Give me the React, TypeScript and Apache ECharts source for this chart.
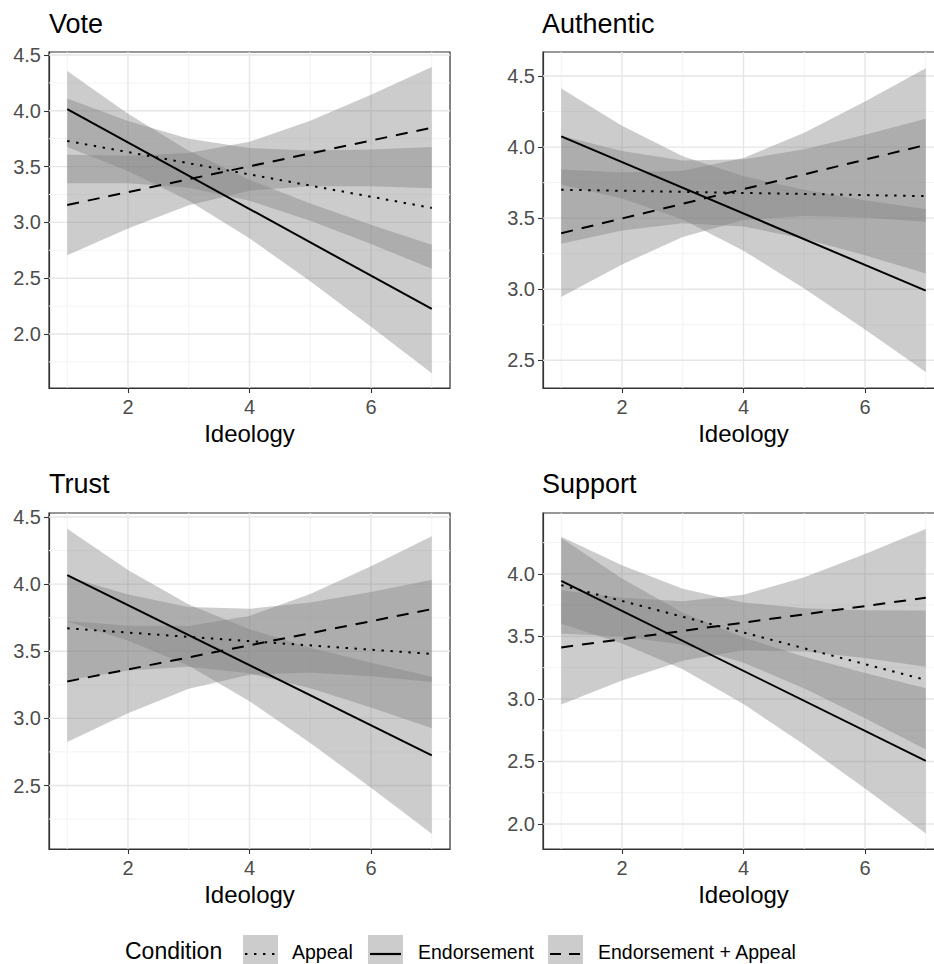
import React, { useEffect, useRef } from "react";
import * as echarts from "echarts";

// ---------------- data ----------------
const X = [1, 2, 3, 4, 5, 6, 7];
const LINE_X = [1, 7];
const PANEL_TITLES = ["Vote", "Authentic", "Trust", "Support"];
const CONDITIONS = ["Appeal", "Endorsement", "Endorsement + Appeal"];
const X_TICKS = [2, 4, 6];
const X_MINOR = [1, 3, 5, 7];

// Vote
const voteAppealLine = [3.73, 3.13];
const voteAppealLo = [3.35, 3.351, 3.31, 3.194, 3.015, 2.806, 2.585];
const voteAppealHi = [4.11, 3.909, 3.75, 3.666, 3.645, 3.654, 3.675];
const voteEndorseLine = [4.016, 2.224];
const voteEndorseLo = [3.676, 3.46, 3.195, 2.857, 2.472, 2.066, 1.649];
const voteEndorseHi = [4.356, 3.974, 3.643, 3.383, 3.17, 2.98, 2.799];
const voteBothLine = [3.156, 3.849];
const voteBothLo = [2.706, 2.946, 3.153, 3.284, 3.325, 3.324, 3.306];
const voteBothHi = [3.606, 3.598, 3.621, 3.722, 3.911, 4.144, 4.392];
const voteRange = [1.516, 4.527];
const voteTicks = [2, 2.5, 3, 3.5, 4, 4.5];
const voteMinor = [1.75, 2.25, 2.75, 3.25, 3.75, 4.25];

// Authentic
const authAppealLine = [3.7, 3.655];
const authAppealLo = [3.32, 3.414, 3.465, 3.442, 3.355, 3.239, 3.11];
const authAppealHi = [4.08, 3.972, 3.905, 3.914, 3.985, 4.087, 4.2];
const authEndorseLine = [4.075, 2.99];
const authEndorseLo = [3.737, 3.638, 3.49, 3.271, 3.005, 2.716, 2.418];
const authEndorseHi = [4.413, 4.15, 3.936, 3.795, 3.699, 3.626, 3.562];
const authBothLine = [3.394, 4.015];
const authBothLo = [2.946, 3.174, 3.368, 3.487, 3.516, 3.504, 3.475];
const authBothHi = [3.842, 3.822, 3.834, 3.923, 4.1, 4.32, 4.555];
const authRange = [2.305, 4.669];
const authTicks = [2.5, 3, 3.5, 4, 4.5];
const authMinor = [2.75, 3.25, 3.75, 4.25];

// Trust
const trustAppealLine = [3.671, 3.48];
const trustAppealLo = [3.285, 3.356, 3.384, 3.336, 3.224, 3.082, 2.927];
const trustAppealHi = [4.057, 3.922, 3.83, 3.816, 3.864, 3.942, 4.033];
const trustEndorseLine = [4.067, 2.725];
const trustEndorseLo = [3.721, 3.581, 3.392, 3.128, 2.817, 2.484, 2.14];
const trustEndorseHi = [4.413, 4.105, 3.848, 3.664, 3.527, 3.414, 3.31];
const trustBothLine = [3.275, 3.814];
const trustBothLo = [2.825, 3.039, 3.221, 3.325, 3.341, 3.314, 3.271];
const trustBothHi = [3.725, 3.691, 3.689, 3.763, 3.927, 4.134, 4.357];
const trustRange = [2.027, 4.53];
const trustTicks = [2.5, 3, 3.5, 4, 4.5];
const trustMinor = [2.25, 2.75, 3.25, 3.75, 4.25];

// Support
const suppAppealLine = [3.91, 3.152];
const suppAppealLo = [3.522, 3.499, 3.433, 3.29, 3.084, 2.846, 2.596];
const suppAppealHi = [4.298, 4.069, 3.881, 3.772, 3.726, 3.71, 3.708];
const suppEndorseLine = [3.944, 2.505];
const suppEndorseLo = [3.601, 3.444, 3.238, 2.959, 2.633, 2.283, 1.924];
const suppEndorseHi = [4.287, 3.964, 3.69, 3.491, 3.337, 3.207, 3.086];
const suppBothLine = [3.412, 3.809];
const suppBothLo = [2.955, 3.147, 3.306, 3.389, 3.38, 3.327, 3.258];
const suppBothHi = [3.869, 3.809, 3.782, 3.833, 3.974, 4.159, 4.36];
const suppRange = [1.8, 4.487];
const suppTicks = [2, 2.5, 3, 3.5, 4];
const suppMinor = [2.25, 2.75, 3.25, 3.75, 4.25];

// ---------------- styling ----------------
const FONT = '"Liberation Sans", Arial, Helvetica, sans-serif';
const BAND_FILL = "rgba(128,128,128,0.4)";
const DOT = [2.4, 6.6];
const DASH = [12, 9];
const LINE_TYPES: any[] = [DOT, "solid", DASH];

const PANELS = [
  {
    lines: [voteAppealLine, voteEndorseLine, voteBothLine],
    los: [voteAppealLo, voteEndorseLo, voteBothLo],
    his: [voteAppealHi, voteEndorseHi, voteBothHi],
    range: voteRange, ticks: voteTicks, minor: voteMinor,
  },
  {
    lines: [authAppealLine, authEndorseLine, authBothLine],
    los: [authAppealLo, authEndorseLo, authBothLo],
    his: [authAppealHi, authEndorseHi, authBothHi],
    range: authRange, ticks: authTicks, minor: authMinor,
  },
  {
    lines: [trustAppealLine, trustEndorseLine, trustBothLine],
    los: [trustAppealLo, trustEndorseLo, trustBothLo],
    his: [trustAppealHi, trustEndorseHi, trustBothHi],
    range: trustRange, ticks: trustTicks, minor: trustMinor,
  },
  {
    lines: [suppAppealLine, suppEndorseLine, suppBothLine],
    los: [suppAppealLo, suppEndorseLo, suppBothLo],
    his: [suppAppealHi, suppEndorseHi, suppBothHi],
    range: suppRange, ticks: suppTicks, minor: suppMinor,
  },
];

const GRID_POS = [
  { left: 49, top: 52 },
  { left: 543, top: 52 },
  { left: 49, top: 513 },
  { left: 543, top: 513 },
];
const GRID_W = 401;
const GRID_H = 336;

function hGridSeries(gi: number, values: number[], color: string, width: number) {
  return {
    type: "custom",
    xAxisIndex: gi,
    yAxisIndex: gi,
    silent: true,
    z: 1,
    data: values.map((v) => [X[0], v]),
    encode: { x: 0, y: 1 },
    renderItem: (params: any, api: any) => {
      const cs = params.coordSys;
      const y = api.coord([api.value(0), api.value(1)])[1];
      return {
        type: "line",
        shape: { x1: cs.x, y1: y, x2: cs.x + cs.width, y2: y },
        style: { stroke: color, lineWidth: width },
      };
    },
  };
}

function vGridSeries(gi: number, values: number[], yRef: number, color: string, width: number) {
  return {
    type: "custom",
    xAxisIndex: gi,
    yAxisIndex: gi,
    silent: true,
    z: 1,
    data: values.map((v) => [v, yRef]),
    encode: { x: 0, y: 1 },
    renderItem: (params: any, api: any) => {
      const cs = params.coordSys;
      const x = api.coord([api.value(0), api.value(1)])[0];
      return {
        type: "line",
        shape: { x1: x, y1: cs.y, x2: x, y2: cs.y + cs.height },
        style: { stroke: color, lineWidth: width },
      };
    },
  };
}

function bandSeries(gi: number, lo: number[], hi: number[]) {
  return {
    type: "custom",
    xAxisIndex: gi,
    yAxisIndex: gi,
    silent: true,
    z: 2,
    data: X.map((x, i) => [x, lo[i], hi[i]]),
    encode: { x: 0, y: [1, 2] },
    renderItem: (params: any, api: any) => {
      if (params.dataIndex !== 0) return { type: "group", children: [] };
      const top = X.map((x, i) => api.coord([x, hi[i]]));
      const bot = X.map((x, i) => api.coord([x, lo[i]])).reverse();
      return {
        type: "polygon",
        shape: { points: top.concat(bot) },
        style: { fill: BAND_FILL },
      };
    },
  };
}

function lineSeries(gi: number, vals: number[], type: any, name: string) {
  return {
    type: "line",
    name,
    xAxisIndex: gi,
    yAxisIndex: gi,
    silent: true,
    z: 5,
    showSymbol: false,
    symbol: "none",
    data: LINE_X.map((x, i) => [x, vals[i]]),
    lineStyle: { color: "#000", width: 2, type, cap: "butt" },
  };
}

function buildOption() {
  const grid: any[] = [];
  const xAxis: any[] = [];
  const yAxis: any[] = [];
  const series: any[] = [];
  const title: any[] = [];

  PANELS.forEach((p, gi) => {
    grid.push({
      left: GRID_POS[gi].left,
      top: GRID_POS[gi].top,
      width: GRID_W,
      height: GRID_H,
      containLabel: false,
      outerBoundsMode: "none",
      show: true,
      borderColor: "#333333",
      borderWidth: 1.2,
      backgroundColor: "rgba(0,0,0,0)",
    });
    xAxis.push({
      gridIndex: gi,
      type: "value",
      min: 0.7,
      max: 7.3,
      axisLine: { show: true, lineStyle: { color: "#333333", width: 1.2 } },
      axisTick: { show: true, length: 5, customValues: X_TICKS, lineStyle: { color: "#333333", width: 1.1 } },
      axisLabel: { customValues: X_TICKS, margin: 9, fontSize: 20, color: "#4d4d4d", fontFamily: FONT },
      splitLine: { show: false },
      name: "Ideology",
      nameLocation: "middle",
      nameGap: 33,
      nameTextStyle: { fontSize: 24, color: "#000", fontFamily: FONT },
    });
    yAxis.push({
      gridIndex: gi,
      type: "value",
      min: p.range[0],
      max: p.range[1],
      axisLine: { show: true, lineStyle: { color: "#333333", width: 1.2 } },
      axisTick: { show: true, length: 5, customValues: p.ticks, lineStyle: { color: "#333333", width: 1.1 } },
      axisLabel: {
        customValues: p.ticks,
        margin: 8,
        fontSize: 20,
        color: "#4d4d4d",
        fontFamily: FONT,
        formatter: (v: number) => v.toFixed(1),
      },
      splitLine: { show: false },
    });
    title.push({
      text: PANEL_TITLES[gi],
      left: gi % 2 === 0 ? 49 : 542,
      top: gi < 2 ? 10 : 470,
      padding: 0,
      textStyle: { fontSize: 27, fontWeight: "normal", color: "#000", fontFamily: FONT },
    });

    series.push(hGridSeries(gi, p.minor, "#f3f3f3", 1));
    series.push(vGridSeries(gi, X_MINOR, p.range[0] + 0.1, "#f3f3f3", 1));
    series.push(hGridSeries(gi, p.ticks, "#e6e6e6", 1.4));
    series.push(vGridSeries(gi, X_TICKS, p.range[0] + 0.1, "#e6e6e6", 1.4));
    for (let k = 0; k < 3; k++) series.push(bandSeries(gi, p.los[k], p.his[k]));
    for (let k = 0; k < 3; k++) series.push(lineSeries(gi, p.lines[k], LINE_TYPES[k], CONDITIONS[k]));
  });

  const keyX = [243, 368, 548];
  const labelX = [292, 418, 598];
  const graphic: any[] = [
    {
      type: "text",
      x: 125,
      y: 951,
      silent: true,
      style: {
        text: "Condition",
        fontSize: 23,
        lineHeight: 20,
        fontFamily: FONT,
        fill: "#000",
        verticalAlign: "middle",
      },
    },
  ];
  CONDITIONS.forEach((c, k) => {
    graphic.push({
      type: "rect",
      silent: true,
      shape: { x: keyX[k], y: 935, width: 35, height: 38 },
      style: { fill: "#cccccc" },
    });
    const lt = LINE_TYPES[k];
    graphic.push({
      type: "line",
      silent: true,
      shape: { x1: keyX[k] + 2, y1: 954, x2: keyX[k] + 33, y2: 954 },
      style: {
        stroke: "#000",
        lineWidth: 2.2,
        lineDash: lt === "solid" ? null : k === 2 ? [11, 8] : lt,
      },
    });
    graphic.push({
      type: "text",
      silent: true,
      x: labelX[k],
      y: 952,
      style: {
        text: c,
        fontSize: 19.5,
        lineHeight: 18,
        fontFamily: FONT,
        fill: "#000",
        verticalAlign: "middle",
      },
    });
  });

  return {
    animation: false,
    backgroundColor: "#ffffff",
    title,
    grid,
    xAxis,
    yAxis,
    series,
    graphic,
  };
}

export default function App() {
  const ref = useRef<HTMLDivElement>(null);
  useEffect(() => {
    if (!ref.current) return;
    const chart = echarts.init(ref.current, null, { renderer: "svg" });
    chart.setOption(buildOption() as any);
    return () => chart.dispose();
  }, []);
  return (
    <div
      ref={ref}
      style={{ position: "absolute", left: 0, top: 0, width: 934, height: 964, background: "#fff" }}
    />
  );
}
